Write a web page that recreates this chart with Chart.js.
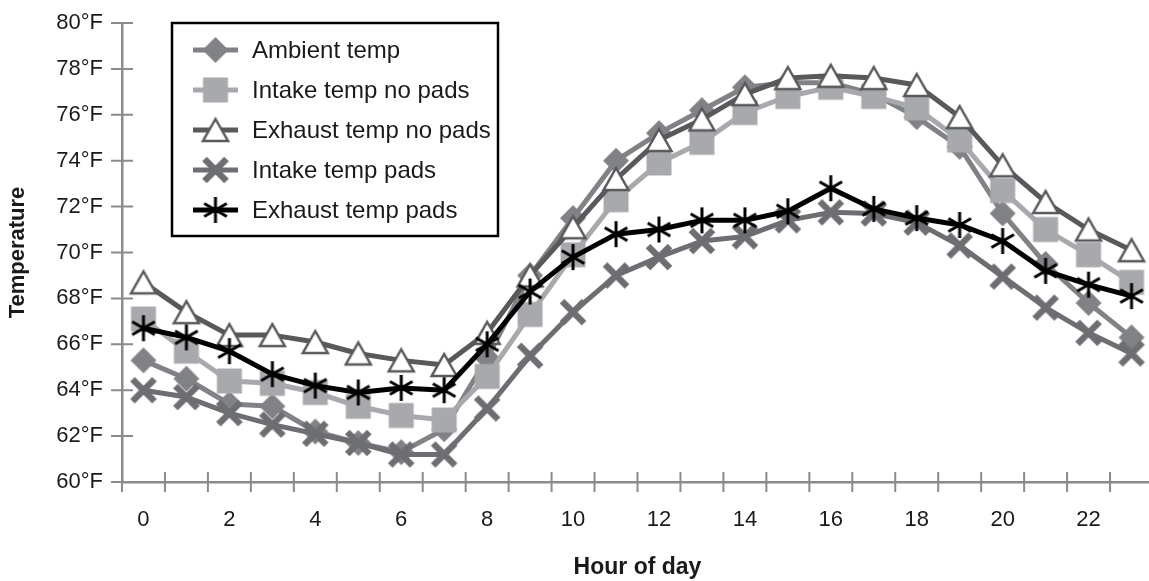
<!DOCTYPE html>
<html>
<head>
<meta charset="utf-8">
<script src="https://cdn.jsdelivr.net/npm/chart.js@4.4.1/dist/chart.umd.min.js"></script>
<style>
  html, body { margin: 0; padding: 0; background: #fff; overflow: hidden; }
  #wrap { width: 1149px; height: 581px; overflow: hidden; }
</style>
</head>
<body>
<div id="wrap"><canvas id="tempChart" width="1170" height="581"></canvas></div>
<script>
// hour of day categories
const hours = ['0','1','2','3','4','5','6','7','8','9','10','11','12','13','14','15','16','17','18','19','20','21','22','23'];

// temperatures (°F)
const ambientTemp       = [65.3, 64.5, 63.4, 63.3, 62.2, 61.7, 61.3, 62.3, 65.4, 69.0, 71.5, 74.0, 75.2, 76.2, 77.2, 77.4, 77.4, 76.9, 75.9, 74.6, 71.7, 69.5, 67.8, 66.3];
const intakeNoPads      = [67.1, 65.7, 64.4, 64.3, 63.9, 63.3, 62.9, 62.7, 64.6, 67.3, 69.9, 72.3, 73.9, 74.8, 76.1, 76.8, 77.2, 76.8, 76.3, 74.9, 72.7, 71.0, 69.9, 68.7];
const exhaustNoPads     = [68.7, 67.4, 66.4, 66.4, 66.1, 65.6, 65.3, 65.1, 66.5, 69.0, 71.1, 73.2, 74.9, 75.8, 76.9, 77.6, 77.7, 77.6, 77.3, 75.9, 73.8, 72.2, 71.0, 70.1];
const intakePads        = [64.0, 63.7, 63.0, 62.5, 62.1, 61.7, 61.2, 61.2, 63.2, 65.5, 67.4, 69.0, 69.8, 70.5, 70.7, 71.4, 71.75, 71.7, 71.3, 70.3, 68.95, 67.6, 66.5, 65.6];
const exhaustPads       = [66.7, 66.3, 65.7, 64.7, 64.2, 63.9, 64.1, 64.0, 66.0, 68.3, 69.8, 70.8, 71.0, 71.4, 71.4, 71.8, 72.8, 71.9, 71.5, 71.2, 70.5, 69.2, 68.6, 68.1];

// y axis range
const yMin = 60, yMax = 80, yStep = 2;

const FONT = '"Liberation Sans", Arial, Helvetica, sans-serif';
const AXIS_GREY = '#8a8b8e';
const TEXT = '#1a1a1a';

// little canvases used as point markers (Excel style)
function makeMarker(kind, color) {
    const c = document.createElement('canvas');
    c.width = 34; c.height = 34;
    const g = c.getContext('2d');
    const m = 17;
    g.fillStyle = color;
    g.strokeStyle = color;
    if (kind === 'diamond') {
        g.beginPath();
        g.moveTo(m, m - 13); g.lineTo(m + 13, m); g.lineTo(m, m + 13); g.lineTo(m - 13, m);
        g.closePath(); g.fill();
    } else if (kind === 'square') {
        g.fillRect(m - 12.5, m - 12.5, 25, 25);
    } else if (kind === 'triangle') {
        g.beginPath();
        g.moveTo(m, m - 11); g.lineTo(m + 12.5, m + 11); g.lineTo(m - 12.5, m + 11);
        g.closePath();
        g.fillStyle = '#fff'; g.fill();
        g.lineWidth = 2.5; g.stroke();
    } else if (kind === 'x') {
        g.lineWidth = 6.5;
        g.beginPath();
        g.moveTo(m - 11, m - 11); g.lineTo(m + 11, m + 11);
        g.moveTo(m + 11, m - 11); g.lineTo(m - 11, m + 11);
        g.stroke();
    } else if (kind === 'asterisk') {
        g.lineWidth = 3;
        g.beginPath();
        g.moveTo(m, m - 13); g.lineTo(m, m + 13);
        g.moveTo(m - 11.3, m - 6.5); g.lineTo(m + 11.3, m + 6.5);
        g.moveTo(m - 11.3, m + 6.5); g.lineTo(m + 11.3, m - 6.5);
        g.stroke();
    }
    return c;
}

// tick marks that cross the axis lines
const axisTicks = {
    id: 'axisTicks',
    beforeDatasetsDraw(chart) {
        const { ctx, chartArea, scales: { x, y } } = chart;
        ctx.save();
        ctx.strokeStyle = AXIS_GREY;
        ctx.lineWidth = 2;
        ctx.beginPath();
        y.ticks.forEach((t) => {
            const py = y.getPixelForValue(t.value);
            ctx.moveTo(chartArea.left - 11, py);
            ctx.lineTo(chartArea.left + 11, py);
        });
        const step = x.getPixelForValue(1) - x.getPixelForValue(0);
        for (let k = 0; k <= hours.length; k++) {
            const px = x.getPixelForValue(0) - step / 2 + k * step;
            ctx.moveTo(px, chartArea.bottom - 10);
            ctx.lineTo(px, chartArea.bottom + 10);
        }
        ctx.stroke();
        ctx.restore();
    }
};

// boxed legend inside the plot, top left
const boxLegend = {
    id: 'boxLegend',
    afterDraw(chart) {
        const { ctx, chartArea } = chart;
        const left = chartArea.left + 50, top = chartArea.top, w = 326, h = 213;
        ctx.save();
        ctx.fillStyle = '#fff';
        ctx.fillRect(left, top, w, h);
        ctx.strokeStyle = '#000';
        ctx.lineWidth = 2.5;
        ctx.strokeRect(left, top, w, h);
        ctx.font = '24px ' + FONT;
        ctx.textBaseline = 'middle';
        chart.data.datasets.forEach((ds, i) => {
            const yy = top + 27 + i * 40;
            ctx.strokeStyle = ds.borderColor;
            ctx.lineWidth = ds.borderWidth;
            ctx.beginPath();
            ctx.moveTo(left + 21, yy);
            ctx.lineTo(left + 66, yy);
            ctx.stroke();
            const img = ds.pointStyle;
            ctx.drawImage(img, left + 43.5 - img.width / 2, yy - img.height / 2);
            ctx.fillStyle = TEXT;
            ctx.fillText(ds.label, left + 80, yy + 1);
        });
        ctx.restore();
    }
};

function series(label, data, color, marker, order) {
    return {
        label: label,
        data: data,
        borderColor: color,
        backgroundColor: color,
        borderWidth: 5,
        borderJoinStyle: 'round',
        tension: 0,
        pointStyle: makeMarker(marker, color),
        pointRadius: 12,
        order: order
    };
}

const ctx = document.getElementById('tempChart').getContext('2d');
new Chart(ctx, {
    type: 'line',
    data: {
        labels: hours,
        datasets: [
            series('Ambient temp', ambientTemp, '#808285', 'diamond', 5),
            series('Intake temp no pads', intakeNoPads, '#a7a9ac', 'square', 4),
            series('Exhaust temp no pads', exhaustNoPads, '#58595b', 'triangle', 3),
            series('Intake temp pads', intakePads, '#6d6e71', 'x', 2),
            series('Exhaust temp pads', exhaustPads, '#000000', 'asterisk', 1)
        ]
    },
    options: {
        responsive: false,
        animation: false,
        layout: { padding: { top: 23, right: 16, left: 0, bottom: 0 } },
        plugins: {
            legend: { display: false },
            tooltip: { enabled: false }
        },
        scales: {
            x: {
                type: 'category',
                offset: true,
                grid: { offset: true, drawOnChartArea: false, drawTicks: false },
                border: { display: true, color: AXIS_GREY, width: 2.5 },
                ticks: {
                    autoSkip: false,
                    maxRotation: 0,
                    padding: 25,
                    color: TEXT,
                    font: { family: FONT, size: 22 },
                    callback: function (val, i) {
                        return i % 2 === 0 ? this.getLabelForValue(val) : '';
                    }
                },
                title: {
                    display: true,
                    text: 'Hour of day',
                    color: TEXT,
                    font: { family: FONT, size: 23, weight: 'bold' },
                    padding: { top: 0, bottom: 0 }
                },
                afterFit: (scale) => {
                    scale.height = 99;
                    scale.paddingLeft = 0;
                    scale.paddingRight = 0;
                }
            },
            y: {
                min: yMin,
                max: yMax,
                grid: { drawOnChartArea: false, drawTicks: false },
                border: { display: true, color: AXIS_GREY, width: 2.5 },
                ticks: {
                    stepSize: yStep,
                    padding: 19,
                    color: TEXT,
                    font: { family: FONT, size: 22 },
                    callback: (v) => v + '°F'
                },
                title: {
                    display: true,
                    text: 'Temperature',
                    color: TEXT,
                    font: { family: FONT, size: 22, weight: 'bold' },
                    padding: { top: 5, bottom: 0 }
                },
                afterFit: (scale) => {
                    scale.width = 122;
                    scale.paddingTop = 0;
                    scale.paddingBottom = 0;
                }
            }
        }
    },
    plugins: [axisTicks, boxLegend]
});
</script>
</body>
</html>
